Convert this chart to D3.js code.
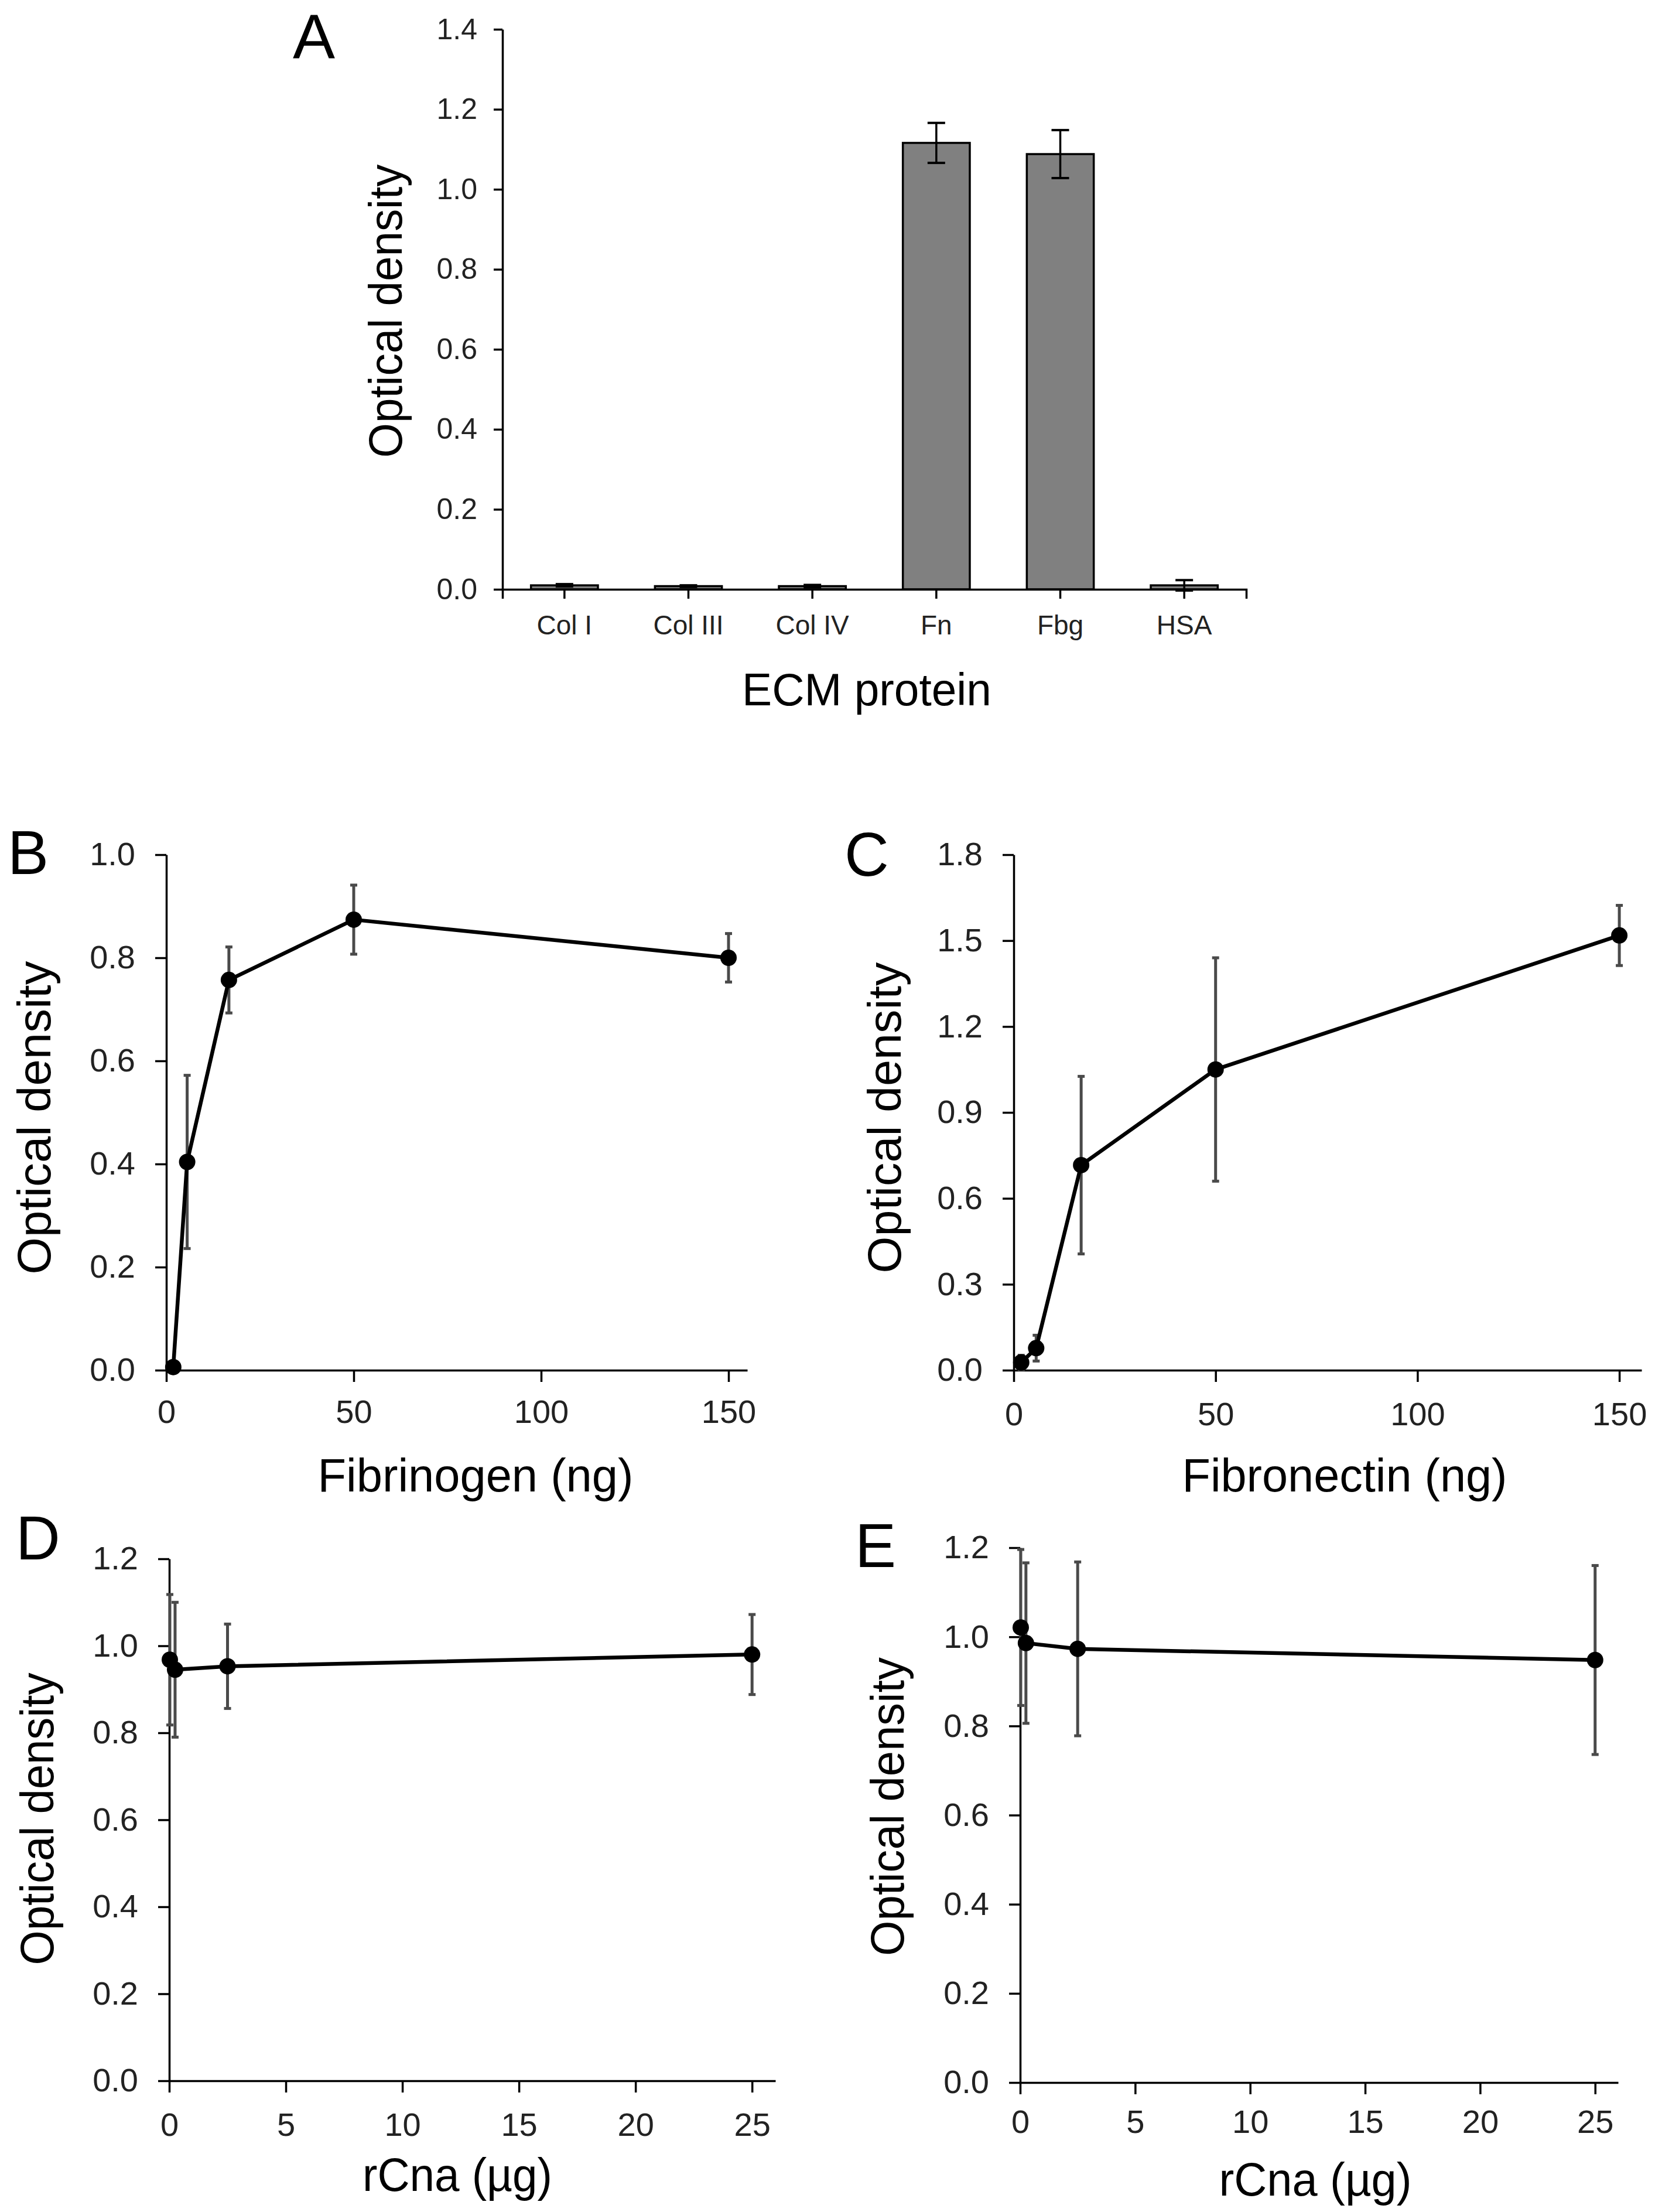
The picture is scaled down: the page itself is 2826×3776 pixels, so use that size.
<!DOCTYPE html>
<html><head><meta charset="utf-8">
<script src="https://cdn.jsdelivr.net/npm/d3@7"></script>
<style>
body{margin:0;background:#fff}
svg{display:block}
text{font-family:"Liberation Sans",Arial,Helvetica,sans-serif}
</style>
</head><body>
<svg id="fig" width="2826" height="3776"></svg>
<script>
// ---------- Panel A: binding to ECM proteins ----------
const ecmCategories = ["Col I","Col III","Col IV","Fn","Fbg","HSA"];
const ecmValues = [0.010,0.008,0.008,1.116,1.088,0.010];
const ecmErrors = [0.003,0.002,0.003,0.050,0.060,0.013];
const ecmYTicks = [0,0.2,0.4,0.6,0.8,1.0,1.2,1.4];

// ---------- Panel B: fibrinogen dose ----------
const fbgAmounts = [1.85,5.56,16.7,50,150];
const fbgOD = [0.006,0.404,0.757,0.874,0.800];
const fbgErr = [0.004,0.168,0.064,0.067,0.047];
const fbgYTicks = [0,0.2,0.4,0.6,0.8,1.0];

// ---------- Panel C: fibronectin dose ----------
const fnAmounts = [1.85,5.56,16.7,50,150];
const fnOD = [0.027,0.077,0.716,1.050,1.518];
const fnErr = [0.025,0.045,0.310,0.390,0.105];
const fnYTicks = [0,0.3,0.6,0.9,1.2,1.5,1.8];
const ngXTicks = [0,50,100,150];

// ---------- Panels D, E: rCna ----------
const rcnaAmountsD = [0.025,0.25,2.5,25];
const rcnaOD_D = [0.968,0.945,0.953,0.980];
const rcnaErr_D = [0.150,0.155,0.097,0.092];
const rcnaAmountsE = [0.025,0.25,2.5,25];
const rcnaOD_E = [1.021,0.986,0.973,0.948];
const rcnaErr_E = [0.175,0.180,0.195,0.212];
const rcnaYTicks = [0,0.2,0.4,0.6,0.8,1.0,1.2];
const rcnaXTicks = [0,5,10,15,20,25];

const svg = d3.select("#fig");
const FONT = '"Liberation Sans",Arial,Helvetica,sans-serif';

function styleAxis(g, fs, color){
  g.selectAll("path.domain").attr("stroke","#000").attr("stroke-width",3.5);
  g.selectAll(".tick line").attr("stroke","#000").attr("stroke-width",3.5);
  g.selectAll(".tick text").attr("font-size",fs).attr("fill",color||"#222").attr("font-family",FONT);
}

function panelLetter(t,x,y,fs){
  svg.append("text").attr("x",x).attr("y",y).attr("font-size",fs).attr("fill","#000").text(t);
}
function yTitle(t,cx,cy,fs,len,weight){
  svg.append("text").attr("transform",`translate(${cx},${cy}) rotate(-90)`)
    .attr("text-anchor","middle").attr("dominant-baseline","central")
    .attr("font-size",fs).attr("font-weight",weight||"normal")
    .attr("textLength",len).attr("lengthAdjust","spacingAndGlyphs")
    .attr("fill","#000").text(t);
}
function xTitle(t,cx,by,fs,len){
  svg.append("text").attr("x",cx).attr("y",by).attr("text-anchor","middle")
    .attr("font-size",fs).attr("textLength",len).attr("lengthAdjust","spacingAndGlyphs")
    .attr("fill","#000").text(t);
}

// ================= Panel A =================
(function(){
  const x = d3.scaleBand().domain(ecmCategories).range([858,2128]).paddingInner(0.46).paddingOuter(0.23);
  const y = d3.scaleLinear().domain([0,1.4]).range([1006,50]);
  const g = svg.append("g");
  const data = ecmCategories.map((c,i)=>({c, v:ecmValues[i], e:ecmErrors[i]}));
  g.selectAll("rect.bar").data(data).join("rect").attr("class","bar")
    .attr("x",d=>x(d.c)).attr("width",x.bandwidth())
    .attr("y",d=>y(d.v)).attr("height",d=>y(0)-y(d.v))
    .attr("fill","#808080").attr("stroke","#000").attr("stroke-width",3.5);
  const eb = g.selectAll("g.err").data(data).join("g").attr("class","err");
  const cx = d=>x(d.c)+x.bandwidth()/2;
  eb.append("line").attr("x1",cx).attr("x2",cx).attr("y1",d=>y(d.v-d.e)).attr("y2",d=>y(d.v+d.e))
    .attr("stroke","#000").attr("stroke-width",3.5);
  [1,-1].forEach(s=>{
    eb.append("line").attr("x1",d=>cx(d)-15).attr("x2",d=>cx(d)+15)
      .attr("y1",d=>y(d.v+s*d.e)).attr("y2",d=>y(d.v+s*d.e))
      .attr("stroke","#000").attr("stroke-width",4);
  });
  const ya = svg.append("g").attr("transform","translate(858,0)")
    .call(d3.axisLeft(y).tickValues(ecmYTicks).tickFormat(d3.format(".1f")).tickSize(15).tickSizeOuter(0).tickPadding(28));
  styleAxis(ya,50,"#222");
  ya.selectAll(".tick text").attr("font-family",'"Liberation Sans Narrow","Arial Narrow",'+FONT);
  const xa = svg.append("g").attr("transform","translate(0,1006)")
    .call(d3.axisBottom(x).tickSize(16).tickSizeOuter(16).tickPadding(28));
  styleAxis(xa,46,"#222");
  panelLetter("A",500,100,108);
  yTitle("Optical density",658,531,80,501,"normal");
  xTitle("ECM protein",1480,1204,77,426);
})();

// ================= Line panels =================
function linePanel(cfg){
  const x = d3.scaleLinear().domain(cfg.xDomain).range(cfg.xRange);
  const y = d3.scaleLinear().domain(cfg.yDomain).range(cfg.yRange);
  const ya = svg.append("g").attr("transform",`translate(${cfg.xRange[0]},0)`)
    .call(d3.axisLeft(y).tickValues(cfg.yTicks).tickFormat(d3.format(".1f")).tickSize(19).tickSizeOuter(0).tickPadding(34));
  styleAxis(ya,56,"#222");
  const xa = svg.append("g").attr("transform",`translate(0,${cfg.yRange[0]})`)
    .call(d3.axisBottom(x).tickValues(cfg.xTicks).tickFormat(d3.format("d")).tickSize(20).tickSizeOuter(0).tickPadding(cfg.xPad));
  styleAxis(xa,56,"#222");
  const pts = cfg.xs.map((v,i)=>({x:v,y:cfg.ys[i],e:cfg.es[i]}));
  const g = svg.append("g");
  const eb = g.selectAll("g.err").data(pts).join("g");
  eb.append("line").attr("x1",d=>x(d.x)).attr("x2",d=>x(d.x))
    .attr("y1",d=>y(d.y-d.e)).attr("y2",d=>y(d.y+d.e))
    .attr("stroke","#4a4a4a").attr("stroke-width",5);
  [1,-1].forEach(s=>{
    eb.append("line").attr("x1",d=>x(d.x)-6).attr("x2",d=>x(d.x)+6)
      .attr("y1",d=>y(d.y+s*d.e)).attr("y2",d=>y(d.y+s*d.e))
      .attr("stroke","#4a4a4a").attr("stroke-width",5);
  });
  g.append("path").datum(pts)
    .attr("d",d3.line().x(d=>x(d.x)).y(d=>y(d.y)))
    .attr("fill","none").attr("stroke","#000").attr("stroke-width",6.5).attr("stroke-linejoin","round");
  g.selectAll("circle").data(pts).join("circle")
    .attr("cx",d=>x(d.x)).attr("cy",d=>y(d.y)).attr("r",14).attr("fill","#000");
  panelLetter(cfg.letter,cfg.lx,cfg.ly,105);
  yTitle("Optical density",cfg.ytx,cfg.yty,80,cfg.ytLen);
  xTitle(cfg.xTitle,cfg.xtx,cfg.xty,79,cfg.xtLen);
}

linePanel({letter:"B",lx:13,ly:1492,
  xs:fbgAmounts,ys:fbgOD,es:fbgErr,yTicks:fbgYTicks,xTicks:ngXTicks,
  xDomain:[0,155],xRange:[284,1276],yDomain:[0,1.0],yRange:[2339,1459],xPad:30,
  ytx:58,yty:1908,ytLen:535,xTitle:"Fibrinogen (ng)",xtx:812,xty:2546,xtLen:539});

linePanel({letter:"C",lx:1442,ly:1495,
  xs:fnAmounts,ys:fnOD,es:fnErr,yTicks:fnYTicks,xTicks:ngXTicks,
  xDomain:[0,155.5],xRange:[1731,2803],yDomain:[0,1.8],yRange:[2339,1459],xPad:34,
  ytx:1510,yty:1908,ytLen:531,xTitle:"Fibronectin (ng)",xtx:2296,xty:2546,xtLen:555});

linePanel({letter:"D",lx:27,ly:2662,
  xs:rcnaAmountsD,ys:rcnaOD_D,es:rcnaErr_D,yTicks:rcnaYTicks,xTicks:rcnaXTicks,
  xDomain:[0,26],xRange:[289,1324],yDomain:[0,1.2],yRange:[3552,2661],xPad:34,
  ytx:63,yty:3105,ytLen:499,xTitle:"rCna (µg)",xtx:781,xty:3740,xtLen:324});

linePanel({letter:"E",lx:1460,ly:2675,
  xs:rcnaAmountsE,ys:rcnaOD_E,es:rcnaErr_E,yTicks:rcnaYTicks,xTicks:rcnaXTicks,
  xDomain:[0,26],xRange:[1742,2763],yDomain:[0,1.2],yRange:[3555,2642],xPad:26,
  ytx:1515,yty:3084,ytLen:510,xTitle:"rCna (µg)",xtx:2246,xty:3748,xtLen:329});
</script>
</body></html>
